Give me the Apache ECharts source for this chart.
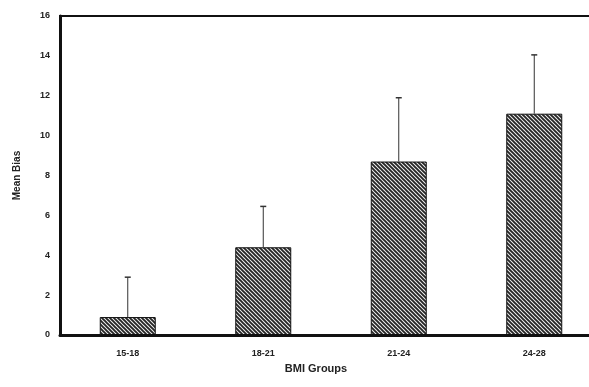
<!DOCTYPE html>
<html lang="en">
<head>
    <meta charset="UTF-8">
    <title>Mean Bias by BMI Group</title>
    <style>
        html, body { margin: 0; padding: 0; background: #fff; overflow: hidden; }
        #chart { width: 589px; height: 387px; }
    </style>
</head>
<body>
<div id="chart"></div>
<script src="https://cdn.jsdelivr.net/npm/echarts@6/dist/echarts.min.js"></script>
<script>
    'use strict';
    // data
    const categories = ['15-18', '18-21', '21-24', '24-28'];
    const meanBias = [0.9, 4.4, 8.7, 11.1];
    const errorTop = [2.9, 6.45, 11.9, 14.05];
    const yTicks = [0, 2, 4, 6, 8, 10, 12, 14, 16];

    // hatched fill, stripes running top-left to bottom-right
    function hatch() {
        let c = document.createElement('canvas');
        c.width = 4; c.height = 4;
        let ctx = c.getContext('2d');
        ctx.fillStyle = '#f2f2f2';
        ctx.fillRect(0, 0, 4, 4);
        ctx.strokeStyle = '#262626';
        ctx.lineWidth = 1.9;
        ctx.beginPath();
        for (let k = -4; k <= 4; k += 4) {
            ctx.moveTo(k - 1, -1);
            ctx.lineTo(k + 5, 5);
        }
        ctx.stroke();
        return c;
    }

    let errData = categories.map(function (c, i) { return [i, meanBias[i], errorTop[i]]; });

    let myChart = echarts.init(document.getElementById('chart'));
    let option = {
        animation: false,
        // plot runs past the right edge of the picture, as in the scan
        grid: {
            left: 60, width: 542, top: 16, bottom: 52,
            outerBoundsMode: 'none',
            containLabel: false,
            show: true, borderColor: '#111', borderWidth: 2
        },
        xAxis: {
            type: 'category',
            data: categories,
            name: 'BMI Groups',
            nameLocation: 'middle',
            nameGap: 28,
            nameTextStyle: { fontFamily: 'Liberation Sans', fontWeight: 'bold', fontSize: 11, color: '#222', padding: [0, 30, 0, 0] },
            axisLine: { lineStyle: { color: '#111', width: 3 } },
            axisTick: { show: false },
            axisLabel: { fontFamily: 'Liberation Sans', fontWeight: 'bold', fontSize: 9, color: '#222', margin: 14 }
        },
        yAxis: {
            type: 'value',
            min: 0, max: 16, interval: 2,
            name: 'Mean Bias',
            nameLocation: 'middle',
            nameGap: 38,
            nameTextStyle: { fontFamily: 'Liberation Sans', fontWeight: 'bold', fontSize: 10, color: '#222' },
            axisLine: { show: true, lineStyle: { color: '#111', width: 3 } },
            axisTick: { show: false },
            splitLine: { show: false },
            axisLabel: {
                fontFamily: 'Liberation Sans', fontWeight: 'bold', fontSize: 9, color: '#222', margin: 10,
                formatter: function (v) { return yTicks.indexOf(v) >= 0 ? String(v) : ''; }
            }
        },
        series: [
            {
                type: 'bar',
                data: meanBias,
                barWidth: 56,
                itemStyle: {
                    color: { image: hatch(), repeat: 'repeat' },
                    borderColor: '#111',
                    borderWidth: 1
                },
                z: 2
            },
            {
                type: 'custom',
                data: errData,
                z: 3,
                renderItem: function (params, api) {
                    let lo = api.coord([api.value(0), api.value(1)]);
                    let hi = api.coord([api.value(0), api.value(2)]);
                    return {
                        type: 'group',
                        children: [
                            { type: 'line', shape: { x1: lo[0], y1: lo[1], x2: hi[0], y2: hi[1] }, style: { stroke: '#333', lineWidth: 1 } },
                            { type: 'line', shape: { x1: hi[0] - 3, y1: hi[1], x2: hi[0] + 3, y2: hi[1] }, style: { stroke: '#333', lineWidth: 1.5 } }
                        ]
                    };
                }
            }
        ]
    };
    myChart.setOption(option);
</script>
</body>
</html>
